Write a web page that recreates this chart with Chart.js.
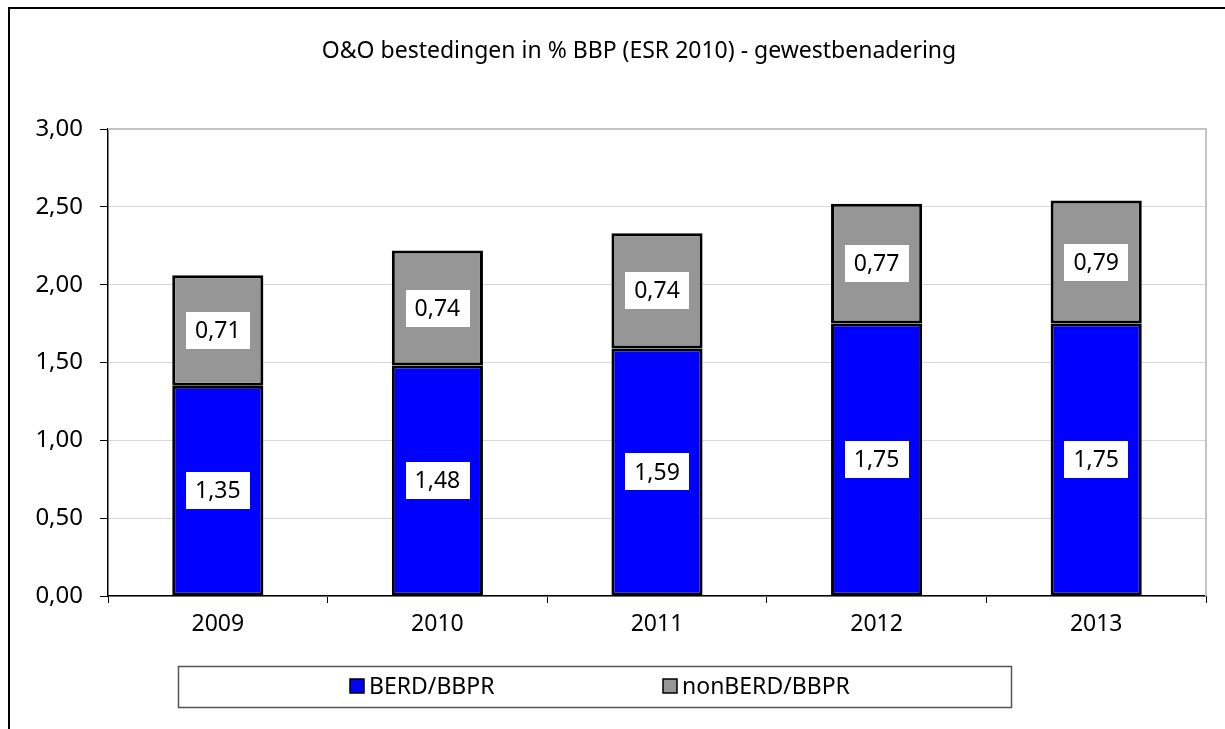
<!DOCTYPE html>
<html>
<head>
<meta charset="utf-8">
<script src="https://cdn.jsdelivr.net/npm/chart.js@4"></script>
<style>
  html, body { margin: 0; padding: 0; background: #fff; }
  #wrap { width: 1225px; height: 729px; }
</style>
</head>
<body>
<div id="wrap"><canvas id="chart" width="1225" height="729"></canvas></div>
<script>
// O&O bestedingen - stacked bars (BERD + nonBERD)
const years = ['2009', '2010', '2011', '2012', '2013'];
const berd = [1.35, 1.48, 1.59, 1.75, 1.75];
const nonBerd = [0.71, 0.74, 0.74, 0.77, 0.79];
const seriesNames = ['BERD/BBPR', 'nonBERD/BBPR'];
const yMin = 0, yMax = 3, yStep = 0.5;
const chartTitle = 'O&O bestedingen in % BBP (ESR 2010) - gewestbenadering';

const FONT = "'Noto Sans', 'DejaVu Sans', sans-serif";
const fmt = v => v.toFixed(2).replace('.', ',');

// outer frame + title
const framePlugin = {
    id: 'frame',
    beforeDraw(chart) {
        const ctx = chart.ctx;
        ctx.save();
        ctx.strokeStyle = '#000';
        ctx.lineWidth = 2;
        ctx.beginPath();
        ctx.moveTo(9, 729);
        ctx.lineTo(9, 8);
        ctx.lineTo(1225, 8);
        ctx.stroke();

        ctx.fillStyle = '#000';
        ctx.font = `23px ${FONT}`;
        ctx.textAlign = 'center';
        ctx.textBaseline = 'middle';
        ctx.fillText(chartTitle, 639, 51);
        ctx.restore();
    }
};

// light grey border on top and right of plot area
const plotBorder = {
    id: 'plotBorder',
    beforeDatasetsDraw(chart) {
        const { ctx, chartArea: a } = chart;
        ctx.save();
        ctx.strokeStyle = '#c4c4c4';
        ctx.lineWidth = 2;
        ctx.beginPath();
        ctx.moveTo(a.left, a.top);
        ctx.lineTo(a.right, a.top);
        ctx.lineTo(a.right, a.bottom);
        ctx.stroke();
        ctx.restore();
    }
};

// white boxed value labels in the middle of each segment
const valueLabels = {
    id: 'valueLabels',
    afterDatasetsDraw(chart) {
        const ctx = chart.ctx;
        ctx.save();
        ctx.font = `23px ${FONT}`;
        ctx.textAlign = 'center';
        ctx.textBaseline = 'middle';
        chart.data.datasets.forEach((ds, i) => {
            const meta = chart.getDatasetMeta(i);
            meta.data.forEach((bar, j) => {
                const txt = fmt(ds.data[j]);
                const cx = bar.x;
                const cy = (bar.y + bar.base) / 2;
                const w = ctx.measureText(txt).width + 18;
                const h = 37;
                ctx.fillStyle = '#fff';
                ctx.fillRect(Math.round(cx - w / 2), Math.round(cy - h / 2), Math.round(w), h);
                ctx.fillStyle = '#000';
                ctx.fillText(txt, cx, cy + 1);
            });
        });
        ctx.restore();
    }
};

// boxed legend under the chart
const legendBox = {
    id: 'legendBox',
    afterDraw(chart) {
        const ctx = chart.ctx;
        ctx.save();
        ctx.strokeStyle = '#555';
        ctx.lineWidth = 1.5;
        ctx.strokeRect(178.5, 666.5, 833, 41);
        ctx.font = `23px ${FONT}`;
        ctx.textBaseline = 'middle';
        ctx.textAlign = 'left';
        const starts = [350, 663];
        chart.data.datasets.forEach((ds, i) => {
            const x = starts[i];
            ctx.fillStyle = ds.backgroundColor;
            ctx.fillRect(x, 679, 14, 14);
            ctx.strokeStyle = '#000';
            ctx.lineWidth = 1.5;
            ctx.strokeRect(x, 679, 14, 14);
            ctx.fillStyle = '#000';
            ctx.fillText(ds.label, x + 19, 687);
        });
        ctx.restore();
    }
};

new Chart(document.getElementById('chart'), {
    type: 'bar',
    data: {
        labels: years,
        datasets: [
            {
                label: seriesNames[0],
                data: berd,
                backgroundColor: '#0000ff',
                borderColor: '#000',
                borderWidth: 3,
                borderSkipped: false
            },
            {
                label: seriesNames[1],
                data: nonBerd,
                backgroundColor: '#969696',
                borderColor: '#000',
                borderWidth: 3,
                borderSkipped: false
            }
        ]
    },
    options: {
        responsive: false,
        animation: false,
        layout: { padding: { top: 129, left: 0, right: 19, bottom: 93 } },
        datasets: { bar: { categoryPercentage: 1, barPercentage: 0.415 } },
        plugins: {
            legend: { display: false },
            title: { display: false },
            tooltip: { enabled: false }
        },
        scales: {
            x: {
                stacked: true,
                grid: {
                    offset: true,
                    drawOnChartArea: false,
                    drawTicks: true,
                    tickLength: 7,
                    tickColor: '#000'
                },
                border: { color: '#000', width: 1.5 },
                ticks: {
                    color: '#000',
                    padding: 8,
                    font: { family: FONT, size: 23 }
                },
                afterFit(scale) { scale.height = 40; }
            },
            y: {
                stacked: true,
                min: yMin,
                max: yMax,
                grid: {
                    color: '#d9d9d9',
                    lineWidth: 1,
                    tickLength: 8,
                    tickColor: '#000'
                },
                border: { color: '#000', width: 1.5 },
                ticks: {
                    stepSize: yStep,
                    color: '#000',
                    padding: 17,
                    font: { family: FONT, size: 24 },
                    callback: v => fmt(v)
                },
                afterFit(scale) { scale.width = 108; }
            }
        }
    },
    plugins: [framePlugin, plotBorder, valueLabels, legendBox]
});
</script>
</body>
</html>
